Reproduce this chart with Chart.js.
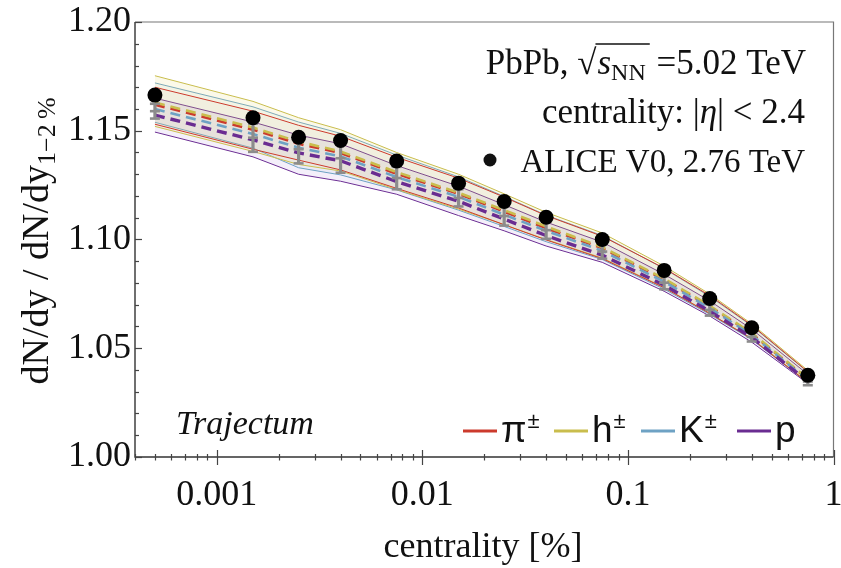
<!DOCTYPE html>
<html>
<head>
<meta charset="utf-8">
<script src="https://cdn.jsdelivr.net/npm/chart.js@4.4.1/dist/chart.umd.min.js"></script>
<style>
  html, body { margin: 0; padding: 0; background: #fff; }
  #wrap { width: 841px; height: 568px; }
</style>
</head>
<body>
<div id="wrap"><canvas id="chart" width="841" height="568"></canvas></div>
<script>
// centrality bins [%]
const centrality = [0.0005, 0.0015, 0.0025, 0.004, 0.0075, 0.015, 0.025, 0.04, 0.075, 0.15, 0.25, 0.4, 0.75];

// ALICE V0, 2.76 TeV
const aliceV0 = [1.1664, 1.1560, 1.1470, 1.1455, 1.1361, 1.1259, 1.1175, 1.1102, 1.1000, 1.0858, 1.0729, 1.0594, 1.0376];

// Trajectum, central values (dashed)
const hMid  = [1.1630, 1.1515, 1.1450, 1.1405, 1.1310, 1.1215, 1.1135, 1.1060, 1.0965, 1.0820, 1.0695, 1.0570, 1.0360];
const piMid = [1.1620, 1.1505, 1.1440, 1.1398, 1.1302, 1.1210, 1.1128, 1.1052, 1.0960, 1.0816, 1.0692, 1.0567, 1.0358];
const kMid  = [1.1600, 1.1485, 1.1422, 1.1382, 1.1287, 1.1196, 1.1114, 1.1040, 1.0948, 1.0806, 1.0684, 1.0561, 1.0354];
const pMid  = [1.1572, 1.1458, 1.1398, 1.1362, 1.1266, 1.1176, 1.1094, 1.1018, 1.0928, 1.0790, 1.0670, 1.0550, 1.0348];

// Trajectum, band edges
const hUp  = [1.1753, 1.1635, 1.1560, 1.1505, 1.1400, 1.1300, 1.1210, 1.1125, 1.1030, 1.0878, 1.0749, 1.0612, 1.0398];
const hLo  = [1.1520, 1.1405, 1.1345, 1.1315, 1.1230, 1.1140, 1.1068, 1.1000, 1.0915, 1.0780, 1.0660, 1.0545, 1.0345];
const piUp = [1.1700, 1.1590, 1.1525, 1.1475, 1.1378, 1.1282, 1.1195, 1.1110, 1.1015, 1.0868, 1.0742, 1.0606, 1.0392];
const piLo = [1.1530, 1.1415, 1.1365, 1.1320, 1.1235, 1.1145, 1.1068, 1.0998, 1.0912, 1.0778, 1.0660, 1.0543, 1.0342];
const kUp  = [1.1720, 1.1610, 1.1540, 1.1488, 1.1388, 1.1288, 1.1198, 1.1112, 1.1018, 1.0866, 1.0738, 1.0603, 1.0390];
const kLo  = [1.1539, 1.1420, 1.1330, 1.1297, 1.1228, 1.1135, 1.1060, 1.0990, 1.0908, 1.0772, 1.0656, 1.0540, 1.0342];
const pUp  = [1.1650, 1.1540, 1.1480, 1.1440, 1.1340, 1.1245, 1.1160, 1.1080, 1.0988, 1.0840, 1.0718, 1.0588, 1.0380];
const pLo  = [1.1494, 1.1380, 1.1300, 1.1268, 1.1208, 1.1110, 1.1040, 1.0970, 1.0895, 1.0762, 1.0648, 1.0528, 1.0338];

// gray error bars (low / high)
const grayLow  = [1.1556, 1.1403, 1.1350, 1.1307, 1.1231, 1.1152, 1.1064, 1.1003, 1.0912, 1.0771, 1.0650, 1.0531, 1.0330];
const grayHigh = [1.1624, 1.1533, 1.1480, 1.1440, 1.1334, 1.1231, 1.1152, 1.1083, 1.0977, 1.0832, 1.0703, 1.0574, 1.0364];

// tick labels
const xTickValues = [0.001, 0.01, 0.1, 1];
const xTickLabels = ['0.001', '0.01', '0.1', '1'];
const yTickValues = [1.00, 1.05, 1.10, 1.15, 1.20];
const yTickLabels = ['1.00', '1.05', '1.10', '1.15', '1.20'];

const SERIF = '"Liberation Serif", "Times New Roman", serif';
const SANS = '"Liberation Sans Narrow", "Liberation Sans", Arial, sans-serif';

const species = [
  { label: '\u03c0', sup: '\u00b1', color: '#cc3a2c', fill: 'rgba(214, 90, 70, 0.04)',  mid: piMid, up: piUp, lo: piLo, dashW: 2.6 },
  { label: 'h',      sup: '\u00b1', color: '#c9bd4d', fill: 'rgba(225, 215, 110, 0.15)', mid: hMid,  up: hUp,  lo: hLo,  dashW: 2.6 },
  { label: 'K',      sup: '\u00b1', color: '#6ea2c4', fill: 'rgba(110, 165, 205, 0.07)', mid: kMid,  up: kUp,  lo: kLo,  dashW: 2.6 },
  { label: 'p',      sup: '',       color: '#6a2c91', fill: 'rgba(155, 105, 210, 0.11)', mid: pMid,  up: pUp,  lo: pLo,  dashW: 3.4 },
];

function pts(ys) {
  return centrality.map((x, i) => ({ x: x, y: ys[i] }));
}

const datasets = [];
datasets.push({
  label: 'ALICE V0', data: pts(aliceV0), showLine: false,
  pointRadius: 7.5, pointBackgroundColor: '#000', pointBorderWidth: 0, order: 0,
});
species.forEach((s, k) => {
  datasets.push({
    data: pts(s.mid), borderColor: s.color, borderWidth: s.dashW, borderDash: [10, 6],
    pointRadius: 0, fill: false, order: 4 - k,
  });
});
species.forEach((s, k) => {
  datasets.push({
    data: pts(s.up), borderColor: s.color, borderWidth: 1, pointRadius: 0,
    fill: '+1', backgroundColor: s.fill, order: 10 + k,
  });
  datasets.push({
    data: pts(s.lo), borderColor: s.color, borderWidth: 1, pointRadius: 0,
    fill: false, order: 10 + k,
  });
});

// gray error bars, drawn just before the black points
const grayBars = {
  id: 'grayBars',
  beforeDatasetDraw(chart, args) {
    if (args.index !== 0) return;
    const { ctx, scales } = chart;
    ctx.save();
    ctx.strokeStyle = '#8c8c8c';
    centrality.forEach((c, i) => {
      const x = scales.x.getPixelForValue(c);
      const y1 = scales.y.getPixelForValue(grayLow[i]);
      const y2 = scales.y.getPixelForValue(grayHigh[i]);
      const ym = (y1 + y2) / 2;
      ctx.lineWidth = 3.2;
      ctx.beginPath(); ctx.moveTo(x, y1); ctx.lineTo(x, y2); ctx.stroke();
      ctx.lineWidth = 2.6;
      [y1, ym, y2].forEach(y => {
        ctx.beginPath(); ctx.moveTo(x - 5, y); ctx.lineTo(x + 5, y); ctx.stroke();
      });
    });
    ctx.restore();
  }
};

// frame and tick marks
const frame = {
  id: 'frame',
  afterDatasetsDraw(chart) {
    const { ctx, chartArea: a, scales } = chart;
    ctx.save();
    ctx.lineWidth = 1.2;
    ctx.strokeStyle = '#777';
    ctx.beginPath();
    ctx.moveTo(a.left, a.top); ctx.lineTo(a.right, a.top); ctx.lineTo(a.right, a.bottom);
    ctx.stroke();
    ctx.strokeStyle = '#333';
    ctx.lineWidth = 1.4;
    ctx.beginPath();
    ctx.moveTo(a.left, a.top); ctx.lineTo(a.left, a.bottom); ctx.lineTo(a.right, a.bottom);
    ctx.stroke();

    // x ticks: decades crossing the axis, minor ticks at 2..9
    ctx.lineWidth = 1.2;
    ctx.strokeStyle = '#444';
    for (let e = -4; e <= 0; e++) {
      for (let m = 1; m <= 9; m++) {
        const v = m * Math.pow(10, e);
        if (v < scales.x.min || v > scales.x.max) continue;
        const x = Math.round(scales.x.getPixelForValue(v)) + 0.5;
        const major = m === 1;
        ctx.beginPath();
        ctx.moveTo(x, a.bottom - (major ? 7 : 3));
        ctx.lineTo(x, a.bottom + (major ? 8 : 3.5));
        ctx.stroke();
      }
    }
    // y ticks: every 0.01, longer every 0.05
    for (let k = 0; k <= 20; k++) {
      const y = Math.round(scales.y.getPixelForValue(1 + k * 0.01)) + 0.5;
      const len = k % 5 === 0 ? 7 : 4;
      ctx.beginPath(); ctx.moveTo(a.left, y); ctx.lineTo(a.left + len, y); ctx.stroke();
    }
    ctx.restore();
  }
};

// axis titles, labels and legend
function drawParts(ctx, parts, x, y, align) {
  let total = 0;
  parts.forEach(p => { ctx.font = p.font; p.w = ctx.measureText(p.text).width; total += p.w + (p.gap || 0); });
  let cx = align === 'right' ? x - total : align === 'center' ? x - total / 2 : x;
  const pos = [];
  parts.forEach(p => {
    ctx.font = p.font;
    ctx.fillText(p.text, cx, y + (p.dy || 0));
    pos.push(cx);
    cx += p.w + (p.gap || 0);
  });
  return pos;
}

const texts = {
  id: 'texts',
  afterDraw(chart) {
    const { ctx } = chart;
    ctx.save();
    ctx.fillStyle = '#111';
    ctx.textBaseline = 'alphabetic';
    ctx.textAlign = 'left';

    // y title
    ctx.save();
    ctx.translate(38, 241);
    ctx.rotate(-Math.PI / 2);
    drawParts(ctx, [
      { text: 'dN/dy / dN/dy', font: '38px ' + SERIF },
      { text: '1\u22122\u2009%', font: '26px ' + SERIF, dy: 7 },
    ], 0, 10, 'center');
    ctx.restore();

    // x title
    ctx.font = '36px ' + SERIF;
    ctx.textAlign = 'center';
    ctx.fillText('centrality [%]', 483, 557);
    ctx.textAlign = 'left';

    // collision system
    const pos = drawParts(ctx, [
      { text: 'PbPb, ', font: '35px ' + SERIF },
      { text: '\u221a', font: '35px ' + SERIF, gap: 1 },
      { text: 's', font: 'italic 35px ' + SERIF },
      { text: 'NN', font: '24px ' + SERIF, dy: 6, gap: 2 },
      { text: ' =5.02 TeV', font: '35px ' + SERIF },
    ], 806, 74, 'right');
    ctx.font = '35px ' + SERIF;
    const rootW = ctx.measureText('\u221a').width;
    ctx.strokeStyle = '#111';
    ctx.lineWidth = 1.4;
    ctx.beginPath();
    ctx.moveTo(pos[1] + rootW - 1, 74 - 30);
    ctx.lineTo(pos[4] + 2, 74 - 30);
    ctx.stroke();

    drawParts(ctx, [
      { text: 'centrality: |', font: '35px ' + SERIF },
      { text: '\u03b7', font: 'italic 35px ' + SERIF },
      { text: '| < 2.4', font: '35px ' + SERIF },
    ], 805, 123, 'right');

    ctx.beginPath();
    ctx.arc(490, 160, 6.5, 0, Math.PI * 2);
    ctx.fill();
    ctx.font = '33px ' + SERIF;
    ctx.textAlign = 'right';
    ctx.fillText('ALICE V0, 2.76 TeV', 805, 172);
    ctx.textAlign = 'left';

    ctx.font = 'italic 34px ' + SERIF;
    ctx.fillText('Trajectum', 176, 434);

    // legend
    const lineX = [463, 554, 641, 737];
    species.forEach((s, k) => {
      ctx.strokeStyle = s.color;
      ctx.lineWidth = 3;
      ctx.beginPath();
      ctx.moveTo(lineX[k], 431); ctx.lineTo(lineX[k] + 34, 431);
      ctx.stroke();
      const parts = [{ text: s.label, font: '37px ' + SANS, gap: 1 }];
      if (s.sup) parts.push({ text: s.sup, font: '22px ' + SANS, dy: -14 });
      drawParts(ctx, parts, lineX[k] + 38, 442, 'left');
    });
    ctx.restore();
  }
};

const tickFont = { family: SERIF, size: 36 };

new Chart(document.getElementById('chart'), {
  type: 'line',
  data: { datasets: datasets },
  options: {
    responsive: false,
    animation: false,
    devicePixelRatio: 1,
    layout: { padding: { top: 22, right: 3, left: 0, bottom: 0 } },
    plugins: { legend: { display: false }, tooltip: { enabled: false } },
    scales: {
      x: {
        type: 'logarithmic', min: 0.0004, max: 1,
        grid: { display: false, drawTicks: false, tickLength: 0 },
        border: { display: false },
        afterBuildTicks: s => { s.ticks = xTickValues.map(v => ({ value: v })); },
        afterFit: s => { s.height = 111; s.paddingLeft = 0; s.paddingRight = 0; },
        ticks: {
          autoSkip: false, maxRotation: 0, padding: 17, color: '#111', font: tickFont,
          callback: v => { const i = xTickValues.indexOf(v); return i >= 0 ? xTickLabels[i] : ''; },
        },
      },
      y: {
        type: 'linear', min: 1.0, max: 1.2,
        grid: { display: false, drawTicks: false, tickLength: 0 },
        border: { display: false },
        afterBuildTicks: s => { s.ticks = yTickValues.map(v => ({ value: v })); },
        afterFit: s => { s.width = 135; s.paddingTop = 0; s.paddingBottom = 0; },
        ticks: {
          padding: 4, color: '#111', font: tickFont,
          callback: v => { const i = yTickValues.indexOf(v); return i >= 0 ? yTickLabels[i] : ''; },
        },
      },
    },
  },
  plugins: [grayBars, frame, texts],
});
</script>
</body>
</html>
